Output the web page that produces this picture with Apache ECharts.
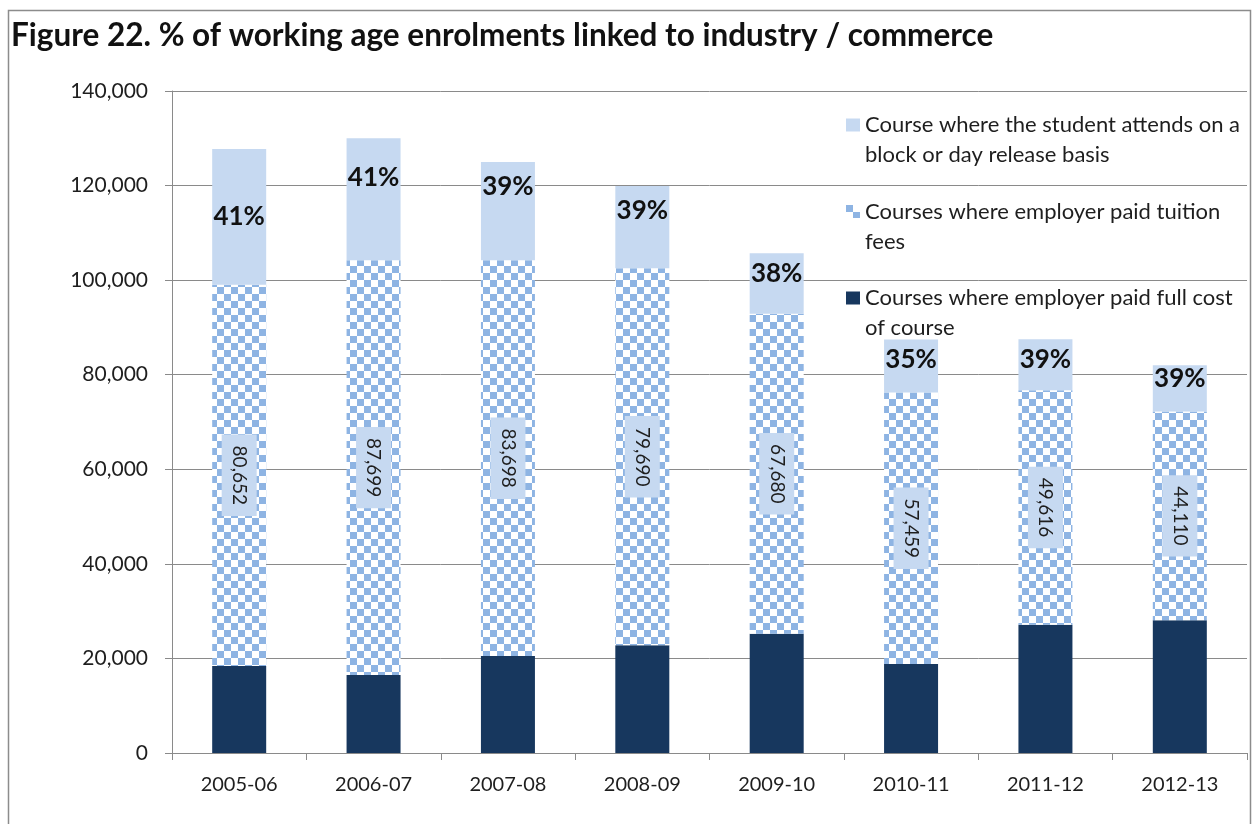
<!DOCTYPE html>
<html>
<head>
<meta charset="utf-8">
<script src="https://cdn.jsdelivr.net/npm/echarts@6/dist/echarts.min.js"></script>
<style>
  html, body { margin: 0; padding: 0; background: #fff; }
  #chart { width: 1253px; height: 824px; }
</style>
</head>
<body>
<div id="chart"></div>
<script>
// Academic years on the category axis
const years = ['2005-06', '2006-07', '2007-08', '2008-09', '2009-10', '2010-11', '2011-12', '2012-13'];

// Enrolments where the employer paid the full cost of the course
const fullCost = [18400, 16500, 20500, 22800, 25200, 18800, 27100, 28100];

// Enrolments where the employer paid tuition fees
const tuitionFees = [80652, 87699, 83698, 79690, 67680, 57459, 49616, 44110];

// Enrolments attending on a block or day release basis
const blockRelease = [28700, 25800, 20800, 17400, 12800, 11200, 10800, 9800];

// Share of working age enrolments linked to industry / commerce
const shareLabels = ['41%', '41%', '39%', '39%', '38%', '35%', '39%', '39%'];

// Y axis ticks
const yTicks = { min: 0, max: 140000, step: 20000 };

const seriesNames = {
  block: 'Course where the student attends on a block or day release basis',
  tuition: 'Courses where employer paid tuition fees',
  full: 'Courses where employer paid full cost of course'
};
// Legend entries wrap onto two lines; the leading blank line keeps the
// icon level with the first line of text.
const legendLines = {};
legendLines[seriesNames.block] = '\nCourse where the student attends on a\nblock or day release basis';
legendLines[seriesNames.tuition] = '\nCourses where employer paid tuition\nfees';
legendLines[seriesNames.full] = '\nCourses where employer paid full cost\nof course';

const FONT = 'Lato, "Open Sans", sans-serif';
const TEXT = '#1e1e1e';
const GREY = '#8a8a8a';

// Checkerboard fill for the tuition fees series
function checkerTile() {
  const c = document.createElement('canvas');
  const s = 7;
  c.width = s * 2; c.height = s * 2;
  const g = c.getContext('2d');
  g.fillStyle = '#ffffff';
  g.fillRect(0, 0, s * 2, s * 2);
  g.fillStyle = '#8eb4e3';
  g.fillRect(0, 0, s, s);
  g.fillRect(s, s, s, s);
  return c;
}

const chart = echarts.init(document.getElementById('chart'), null, { renderer: 'canvas' });

// Where each percentage label sits inside the light segment
const topLabelFor = (i) => {
  const gaps = [null, 26, 12, 12, 7, 7, 7, 0];
  if (gaps[i] === null) return { position: 'inside' };
  return { position: 'insideTop', distance: gaps[i] };
};

const option = {
  animation: false,
  textStyle: { fontFamily: FONT },
  title: {
    text: 'Figure 22. % of working age enrolments linked to industry / commerce',
    left: 11, top: 20, padding: 0,
    textStyle: { fontFamily: FONT, fontWeight: 'bold', fontSize: 31.5, color: '#111' }
  },
  graphic: [{
    type: 'rect',
    shape: { x: 8.5, y: 10.5, width: 1242, height: 830 },
    style: { fill: 'none', stroke: '#8c8c8c', lineWidth: 1.5 },
    silent: true, z: -1
  }],
  legend: {
    orient: 'vertical',
    left: 846, top: 80, padding: 0,
    itemWidth: 14, itemHeight: 13,
    itemGap: -3.5,
    icon: 'rect',
    data: [seriesNames.block, seriesNames.tuition, seriesNames.full],
    formatter: (name) => legendLines[name],
    textStyle: { fontFamily: FONT, fontSize: 22, color: TEXT, lineHeight: 30 }
  },
  grid: { left: 172, right: 6, top: 91, bottom: 71, containLabel: false },
  xAxis: {
    type: 'category',
    data: years,
    axisLine: { lineStyle: { color: GREY, width: 1 } },
    axisTick: { show: true, length: 7, lineStyle: { color: GREY } },
    axisLabel: { fontFamily: FONT, fontSize: 20, color: TEXT, margin: 22 }
  },
  yAxis: {
    type: 'value',
    min: yTicks.min, max: yTicks.max, interval: yTicks.step,
    axisLine: { show: true, lineStyle: { color: GREY, width: 1 } },
    axisTick: { show: true, length: 7, lineStyle: { color: GREY } },
    splitLine: { lineStyle: { color: GREY, width: 1 } },
    axisLabel: {
      fontFamily: FONT, fontSize: 21, color: TEXT, margin: 24,
      formatter: (v) => v.toLocaleString('en-US')
    }
  },
  series: [
    {
      name: seriesNames.full,
      type: 'bar', stack: 'total', barWidth: 54,
      itemStyle: { color: '#17375e' },
      data: fullCost
    },
    {
      name: seriesNames.tuition,
      type: 'bar', stack: 'total', barWidth: 54,
      itemStyle: { color: { image: checkerTile(), repeat: 'repeat' } },
      label: {
        show: true, position: 'inside', rotate: -90,
        fontFamily: FONT, fontSize: 19, color: TEXT,
        backgroundColor: '#c6d9f1', padding: [8, 11],
        formatter: (p) => p.value.toLocaleString('en-US')
      },
      data: tuitionFees
    },
    {
      name: seriesNames.block,
      type: 'bar', stack: 'total', barWidth: 54,
      itemStyle: { color: '#c6d9f1' },
      data: blockRelease.map((v, i) => ({
        value: v,
        label: Object.assign({
          show: true, formatter: shareLabels[i],
          fontFamily: FONT, fontWeight: 'bold', fontSize: 26, color: '#111'
        }, topLabelFor(i))
      }))
    }
  ]
};

chart.setOption(option);
</script>
</body>
</html>
